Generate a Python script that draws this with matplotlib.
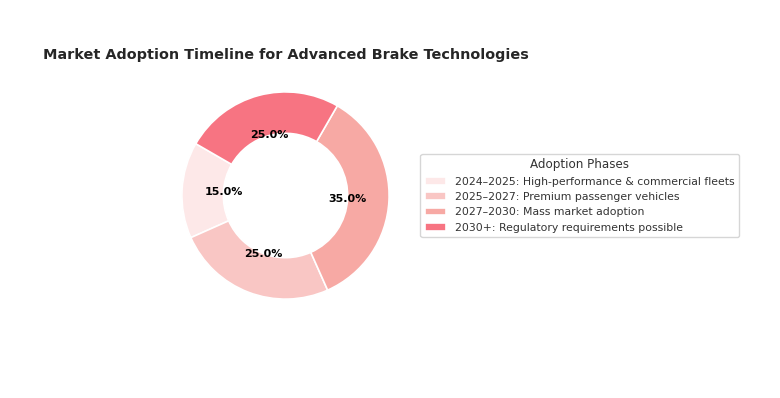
import matplotlib.pyplot as plt

# Data
phases = [
    "2024–2025: High-performance & commercial fleets",
    "2025–2027: Premium passenger vehicles",
    "2027–2030: Mass market adoption",
    "2030+: Regulatory requirements possible",
]
shares = [15, 25, 35, 25]
colors = ["#fde8e8", "#f9c6c4", "#f7a9a4", "#f77482"]

fig = plt.figure(figsize=(7.8, 3.98), dpi=100)
ax = fig.add_axes([156 / 780, 73 / 398, 259 / 780, 259 / 398])

wedges, texts, autotexts = ax.pie(
    shares, colors=colors, startangle=150, autopct="%1.1f%%",
    pctdistance=0.6, wedgeprops=dict(width=0.4, edgecolor="white", linewidth=1.2),
)
for t in autotexts:
    t.set_fontsize(8)
    t.set_fontweight("bold")
    t.set_color("black")
ax.set_aspect("equal")

leg = ax.legend(wedges, phases, title="Adoption Phases", loc="center left",
                bbox_to_anchor=(1.0, 0.5), fontsize=7.8, title_fontsize=8.6,
                frameon=True, edgecolor="#cccccc")
for t in leg.get_texts():
    t.set_color("#333333")
leg.get_title().set_color("#333333")

fig.text(43 / 780, 1 - 55 / 398, "Market Adoption Timeline for Advanced Brake Technologies",
         fontsize=10.4, fontweight="bold", color="#262626", va="center", ha="left")

fig.savefig("out.png", dpi=100)
